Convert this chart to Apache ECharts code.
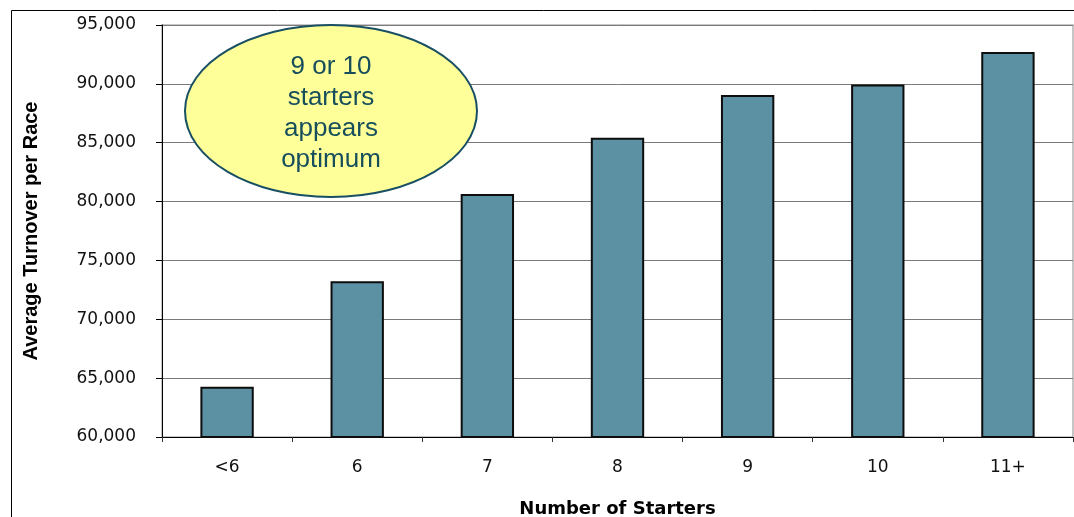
<!DOCTYPE html>
<html>
<head>
<meta charset="utf-8">
<script src="https://cdn.jsdelivr.net/npm/echarts@6/dist/echarts.min.js"></script>
<style>
  html, body { margin: 0; padding: 0; background: #fff; }
  #chart { width: 1074px; height: 517px; }
</style>
</head>
<body>
<div id="chart"></div>
<script>
// Field size buckets and the average turnover per race in each
const categories = ['<6', '6', '7', '8', '9', '10', '11+'];
const turnover = [64270, 73230, 80650, 85430, 89060, 89950, 92710];
const noteLines = ['9 or 10', 'starters', 'appears', 'optimum'];

const chart = echarts.init(document.getElementById('chart'), null, { renderer: 'canvas' });

chart.setOption({
  animation: false,
  backgroundColor: '#ffffff',
  grid: {
    left: 162, top: 25, right: 1, bottom: 80,
    outerBoundsMode: 'none',
    containLabel: false,
    show: true, borderColor: '#b4b4b4', borderWidth: 1.5, backgroundColor: 'transparent'
  },
  xAxis: {
    type: 'category',
    data: categories,
    name: 'Number of Starters',
    nameLocation: 'middle',
    nameGap: 63,
    nameTextStyle: { fontFamily: 'DejaVu Sans', fontWeight: 'bold', fontSize: 18, color: '#000' },
    axisLine: { lineStyle: { color: '#000', width: 1 } },
    axisTick: { show: true, length: 5, lineStyle: { color: '#333' } },
    axisLabel: { margin: 22, fontFamily: 'DejaVu Sans', fontSize: 17, color: '#111' }
  },
  yAxis: {
    type: 'value',
    min: 60000, max: 95000, interval: 5000,
    name: 'Average Turnover per Race',
    nameLocation: 'middle',
    nameGap: 121,
    nameTextStyle: { fontFamily: 'Liberation Sans', fontWeight: 'bold', fontSize: 20, color: '#000' },
    axisLine: { show: true, lineStyle: { color: '#000', width: 1 } },
    axisTick: { show: true, length: 6, lineStyle: { color: '#000' } },
    axisLabel: {
      margin: 26, fontFamily: 'DejaVu Sans', fontSize: 17, color: '#111',
      formatter: v => v.toLocaleString('en-US')
    },
    splitLine: { show: true, lineStyle: { color: '#7a7a7a', width: 1 } }
  },
  series: [{
    type: 'bar',
    data: turnover,
    barWidth: '41%',
    itemStyle: { color: '#5c90a3', borderColor: '#0d0d0d', borderWidth: 2 }
  }],
  graphic: [
    {
      type: 'rect', silent: true, z: 100,
      shape: { x: 11.5, y: 10.5, width: 1100, height: 600 },
      style: { fill: 'none', stroke: '#000', lineWidth: 1 }
    },
    {
      type: 'ellipse', z: 100,
      shape: { cx: 331, cy: 111, rx: 146, ry: 86 },
      style: { fill: '#ffff99', stroke: '#184f63', lineWidth: 2 }
    },
    {
      type: 'text', z: 101,
      x: 331, y: 113,
      style: {
        text: noteLines.join('\n'),
        fill: '#174e5c',
        font: '26px "Liberation Sans", Arial, sans-serif',
        lineHeight: 31,
        align: 'center',
        verticalAlign: 'middle'
      }
    }
  ]
});
</script>
</body>
</html>
